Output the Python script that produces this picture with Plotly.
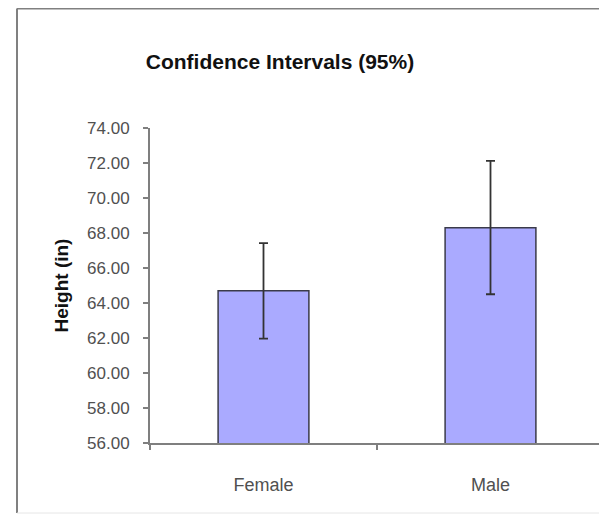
import plotly.graph_objects as go

categories = ["Female", "Male"]
means = [64.7, 68.3]
ci_plus = [2.72, 3.82]
ci_minus = [2.74, 3.80]
y_ticks = [56, 58, 60, 62, 64, 66, 68, 70, 72, 74]

# page has an 8px body margin, so the figure is sized to fit the window
OFF = 8
W, H = 607 - OFF, 517 - OFF
L, R, T, B = 150 - OFF, 3, 128 - OFF, 74

fig = go.Figure(go.Bar(
    x=categories, y=means, width=0.4,
    marker=dict(color="#AAAAFF", line=dict(color="#3a3a4a", width=1.5)),
    error_y=dict(type="data", symmetric=False, array=ci_plus, arrayminus=ci_minus,
                 color="#333333", thickness=1.8, width=4.5),
))

pw, ph = W - L - R, H - T - B
def px_x(p): return (p - OFF - L) / pw
def px_y(p): return (H - B - (p - OFF)) / ph

fig.update_layout(
    width=W, height=H,
    margin=dict(l=L, r=R, t=T, b=B, pad=0),
    plot_bgcolor="white", paper_bgcolor="white",
    showlegend=False,
    title=dict(text="<b>Confidence Intervals (95%)</b>", x=(280 - OFF) / W, xref="container", xanchor="center",
               y=1 - (62 - OFF) / H, yref="container", yanchor="middle",
               font=dict(family="Liberation Sans, Arial", size=21, color="#111111")),
    font=dict(family="Liberation Sans, Arial"),
    shapes=[
        dict(type="line", xref="paper", yref="paper", x0=px_x(17), x1=px_x(17), y0=px_y(8.5), y1=px_y(513),
             line=dict(color="#808080", width=2)),
        dict(type="line", xref="paper", yref="paper", x0=px_x(17), x1=px_x(608), y0=px_y(8.5), y1=px_y(8.5),
             line=dict(color="#808080", width=2)),
        dict(type="line", xref="paper", yref="paper", x0=px_x(17), x1=px_x(608), y0=px_y(513), y1=px_y(513),
             line=dict(color="#e6e6e6", width=1)),
    ],
)
fig.update_yaxes(
    range=[56, 74], tickvals=y_ticks, tickformat=".2f",
    showgrid=False, zeroline=False,
    showline=True, linecolor="#7f7f7f", linewidth=2,
    ticks="outside", ticklen=5, tickcolor="#7f7f7f", tickwidth=1.5,
    tickfont=dict(size=17, color="#505050"), ticklabelstandoff=10,
    title=dict(text="<b>Height (in)</b>", font=dict(size=19, color="#111111"), standoff=13),
)
fig.update_xaxes(
    showgrid=False, zeroline=False,
    showline=True, linecolor="#7f7f7f", linewidth=2,
    ticks="outside", tickson="boundaries", ticklen=5, tickcolor="#7f7f7f", tickwidth=1.5,
    tickfont=dict(size=18, color="#505050"), ticklabelstandoff=24,
)

fig.write_html("out.html")
